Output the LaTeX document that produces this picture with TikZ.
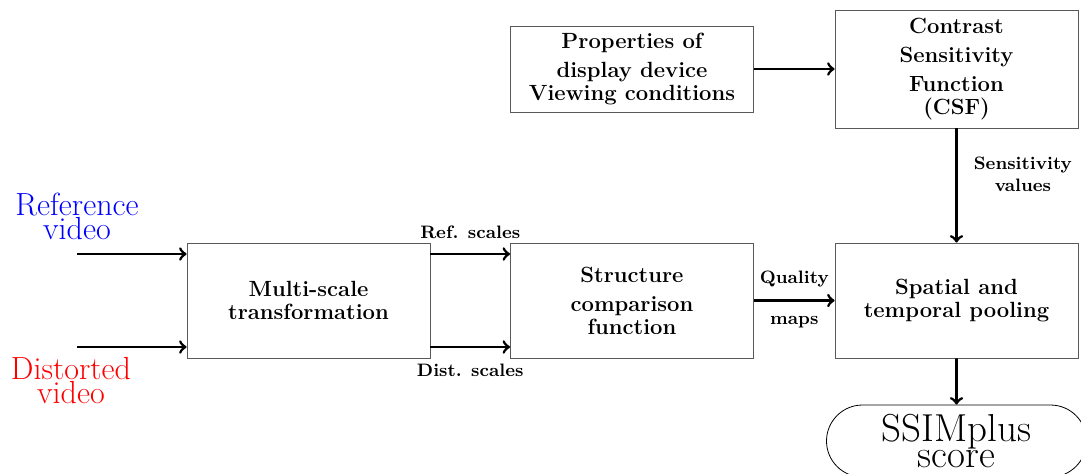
\documentclass[tikz,border=0pt]{standalone}
\usepackage{amsmath}
\usepackage{tikz}
\definecolor{boxgray}{gray}{0.35}
\usetikzlibrary{arrows, positioning, shapes}

\begin{document}
\begin{tikzpicture}[x=0.5pt, y=-0.5pt,
	block/.style={draw=boxgray, thin, align=center, minimum width=121.5pt, inner sep=2pt, font=\fontsize{11}{11.5}\selectfont\bfseries},
	flow/.style={->, line width=1.4pt},
	lbl/.style={font=\fontsize{9}{11}\selectfont\bfseries, align=center, inner sep=0pt},
	]

\def \rowy{300.5}
\def \topy{69}

\useasboundingbox (0,0) rectangle (1081,473);

\node[block, minimum height=57.5pt] (multi)  at (308.5, \rowy) {Multi-scale\\ transformation};
\node[block, minimum height=57.5pt] (struct) at (632  , \rowy) {Structure\\[3pt] comparison\\ function};
\node[block, minimum height=57.5pt] (pool)   at (956.5, \rowy) {Spatial and\\ temporal pooling};
\node[block, minimum height=43pt]   (props)  at (632  , \topy) {Properties of\\[3pt] display device\\ Viewing conditions};
\node[block, minimum height=59pt]   (csf)    at (956.5, \topy) {Contrast\\[3pt] Sensitivity\\[3pt] Function\\ (CSF)};
\node[draw, thin, rounded rectangle, minimum width=130pt, minimum height=36pt, inner sep=0pt, align=center, font=\fontsize{19.5}{12}\selectfont] (score) at (956.5, 441) {SSIMplus\\ score};

\coordinate (refin)  at (77, 254); % reference input
\coordinate (distin) at (77, 347); % distorted input

\node[above=7pt, inner sep=0pt, text=blue, align=center, font=\fontsize{16}{12}\selectfont] (reflbl) at (refin) {Reference\\ video};
\node[below=5pt, xshift=-3pt, inner sep=0pt, text=red, align=center, font=\fontsize{16}{12}\selectfont] (distlbl) at (distin) {Distorted\\ video};

\draw[flow] (refin)  -- (multi.west |- refin);
\draw[flow] (distin) -- (multi.west |- distin);
\draw[flow] (multi.east |- refin)  -- node[lbl, above=7pt] {Ref. scales}  (struct.west |- refin);
\draw[flow] (multi.east |- distin) -- node[lbl, below=8pt] {Dist. scales} (struct.west |- distin);
\draw[flow] (struct) -- node[lbl, above=6pt] {Quality} node[lbl, below=7pt] {maps} (pool);
\draw[flow] (props) -- (csf);
\draw[flow] (csf) -- node[lbl, right=8pt, pos=0.4] {Sensitivity\\ values} (pool);
\draw[flow] (pool) -- (score);

\end{tikzpicture}
\end{document}
